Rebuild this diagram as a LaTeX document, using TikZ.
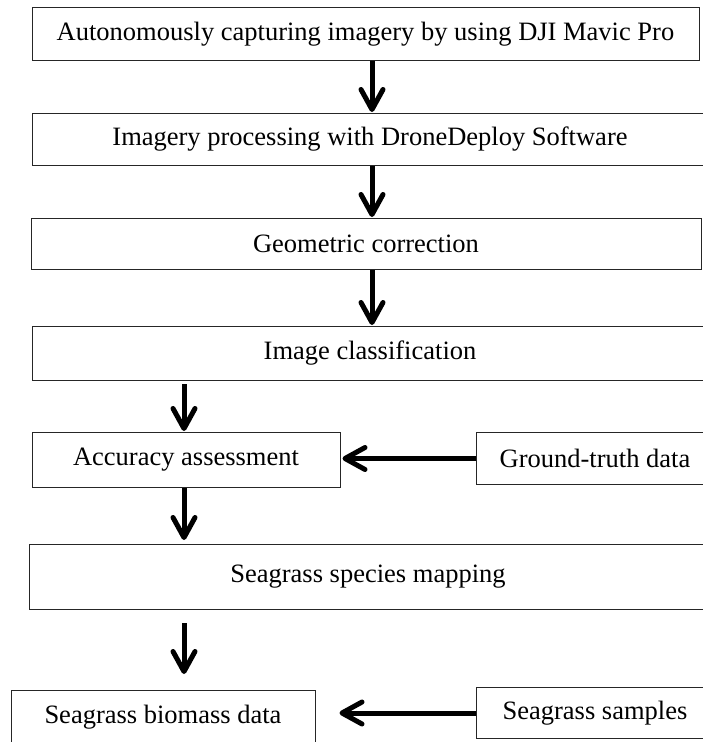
\documentclass[tikz,border=0pt]{standalone}
\usepackage{fontspec}
\setmainfont{Liberation Serif}
\usetikzlibrary{arrows.meta}

\begin{document}
\begin{tikzpicture}[x=1pt, y=-1pt, every node/.style={font=\fontsize{26.5}{30}\selectfont},
			box/.style={draw=black!85, line width=1pt, inner sep=0pt},
			flow/.style={line width=5pt, -{Straight Barb[length=20pt,width=22pt,round]}}]
			 \useasboundingbox (0,0) rectangle (702,742);
			 \coordinate (mid)at(372,0);
			 \coordinate (lft)at(184,0);
			 \node[box,minimum width=667pt,minimum height=53pt] (b1)at(365.5,34) {Autonomously capturing imagery by using DJI Mavic Pro};
			 \node[box,minimum width=676pt,minimum height=52pt] (b2)at(370,139.5) {Imagery processing with DroneDeploy Software};
			 \node[box,minimum width=670pt,minimum height=51pt] (b3)at(366,244) {Geometric correction};
			 \node[box,minimum width=676pt,minimum height=54pt] (b4)at(370,353.5) {Image classification};
			 \node[box,minimum width=308pt,minimum height=55pt] (b5)at(186,460) {Accuracy assessment};
			 \node[box,minimum width=238pt,minimum height=52pt] (gt)at(595,458.5) {Ground-truth data};
			 \node[box,minimum width=678pt,minimum height=65pt] (b6)at(368,577) {Seagrass species mapping};
			 \node[box,minimum width=304pt,minimum height=54pt] (b7)at(163,717.5) {Seagrass biomass data};
			 \node[box,minimum width=238pt,minimum height=51pt] (smp)at(595,713) {Seagrass samples};
			 \draw[flow,shorten >=1pt] (b1.south -| mid) -- (b2.north -| mid);
			 \draw[flow,shorten >=1pt] (b2.south -| mid) -- (b3.north -| mid);
			 \draw[flow,shorten >=1pt] (b3.south -| mid) -- (b4.north -| mid);
			 \draw[flow,shorten <=3pt,shorten >=1pt] (b4.south -| lft) -- (b5.north -| lft);
			 \draw[flow,shorten >=2pt] (gt.west) -- (gt.west -| b5.east);
			 \draw[flow,shorten >=4pt] (b5.south -| lft) -- (b6.north -| lft);
			 \draw[flow,shorten <=13pt,shorten >=16pt] (b6.south -| lft) -- (b7.north -| lft);
			 \draw[flow,shorten >=24pt] (smp.west) -- (smp.west -| b7.east);
		\end{tikzpicture}
\end{document}
